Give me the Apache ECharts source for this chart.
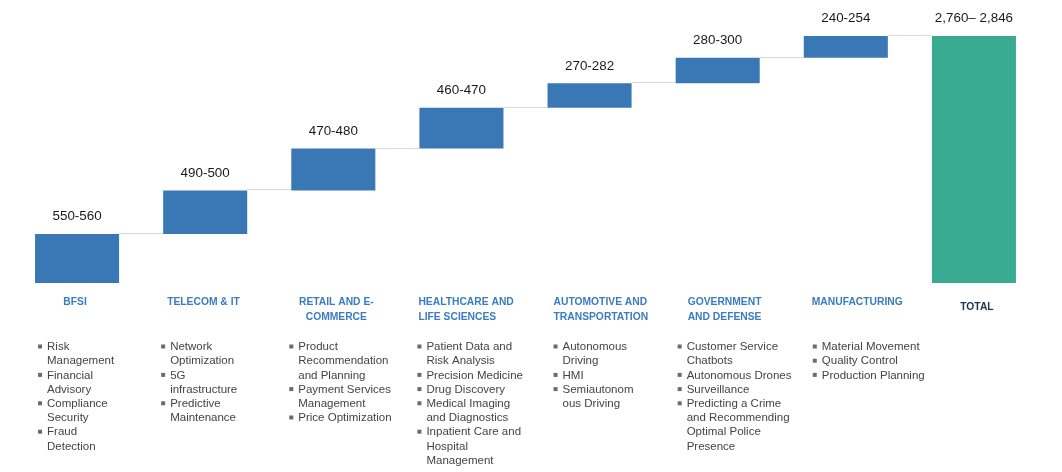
<!DOCTYPE html>
<html>
<head>
<meta charset="utf-8">
<script src="https://cdn.jsdelivr.net/npm/echarts@6/dist/echarts.min.js"></script>
<style>
html,body{margin:0;padding:0;background:#fff;}
#chart{width:1062px;height:472px;}
</style>
</head>
<body>
<div id="chart"></div>
<script>
// ---- data ----
const categories = ['BFSI', 'TELECOM & IT', 'RETAIL AND E-\nCOMMERCE', 'HEALTHCARE AND\nLIFE SCIENCES',
  'AUTOMOTIVE AND\nTRANSPORTATION', 'GOVERNMENT\nAND DEFENSE', 'MANUFACTURING', 'TOTAL'];
const rangeLabels = ['550-560', '490-500', '470-480', '460-470', '270-282', '280-300', '240-254', '2,760\u2013 2,846'];
const midValues = [555, 495, 475, 465, 276, 290, 247];
const bullets = [
  ['Risk\nManagement', 'Financial\nAdvisory', 'Compliance\nSecurity', 'Fraud\nDetection'],
  ['Network\nOptimization', '5G\ninfrastructure', 'Predictive\nMaintenance'],
  ['Product\nRecommendation\nand Planning', 'Payment Services\nManagement', 'Price Optimization'],
  ['Patient Data and\nRisk Analysis', 'Precision Medicine', 'Drug Discovery', 'Medical Imaging\nand Diagnostics', 'Inpatient Care and\nHospital\nManagement'],
  ['Autonomous\nDriving', 'HMI', 'Semiautonom\nous Driving'],
  ['Customer Service\nChatbots', 'Autonomous Drones', 'Surveillance', 'Predicting a Crime\nand Recommending\nOptimal Police\nPresence'],
  ['Material Movement', 'Quality Control', 'Production Planning'],
  []
];

// ---- derived (waterfall) ----
const total = midValues.reduce((a, b) => a + b, 0);
const baseVals = [];
let acc = 0;
midValues.forEach(v => { baseVals.push(acc); acc += v; });
baseVals.push(0);
const shownVals = midValues.concat([total]);
const cumulative = midValues.map((v, i) => baseVals[i] + v);

// ---- layout / style (not data) ----
const BAR_RATIO = 0.656;
const titleLayout = [['center', -2], ['left', 4], ['center', 3], ['left', -1], ['left', 6], ['left', 12], ['left', 8], ['center', 3]];
const bulletIndent = [3, -2, -2, -2, 6, 2, 9];
const LH = 14.2;
const BLUE = '#3a78b5';
const GREEN = '#3aab93';

const chart = echarts.init(document.getElementById('chart'));
chart.setOption({
  animation: false,
  grid: { left: 13, right: 24, top: 36, bottom: 189 },
  xAxis: {
    type: 'category',
    data: categories,
    axisLine: { show: false },
    axisTick: { show: false },
    axisLabel: { show: false },
    splitLine: { show: false }
  },
  yAxis: { type: 'value', min: 0, max: 'dataMax', show: false, splitLine: { show: false } },
  series: [
    {
      type: 'bar', stack: 'w', barWidth: (BAR_RATIO * 100) + '%',
      itemStyle: { color: 'transparent' }, data: baseVals, silent: true
    },
    {
      type: 'bar', stack: 'w', barWidth: (BAR_RATIO * 100) + '%',
      data: shownVals.map((v, i) => ({ value: v, itemStyle: { color: i === shownVals.length - 1 ? GREEN : BLUE } })),
      label: {
        show: true, position: 'top', distance: 11,
        formatter: p => rangeLabels[p.dataIndex],
        fontFamily: '"Liberation Sans", Arial, sans-serif', fontSize: 13.4, color: '#1a1a1a'
      }
    },
    {
      // connectors
      type: 'custom',
      data: cumulative.map((c, i) => [i, c]),
      encode: { x: 0, y: 1 },
      z: 1,
      renderItem: (params, api) => {
        const i = api.value(0);
        const c = api.value(1);
        const p1 = api.coord([i, c]);
        const p2 = api.coord([i + 1, c]);
        const bw = api.size([1, 0])[0] * BAR_RATIO;
        return {
          type: 'line',
          shape: { x1: p1[0] + bw / 2, y1: Math.round(p1[1]) - 0.5, x2: p2[0] - bw / 2, y2: Math.round(p1[1]) - 0.5 },
          style: { stroke: '#d9d9d9', lineWidth: 1 }
        };
      }
    },
    {
      // titles and bullet lists
      type: 'custom',
      data: categories.map((c, i) => [i, 0]),
      encode: { x: 0, y: 1 },
      renderItem: (params, api) => {
        const i = api.value(0);
        const p = api.coord([i, 0]);
        const bw = api.size([1, 0])[0] * BAR_RATIO;
        const left = p[0] - bw / 2;
        const children = [];
        const isTotal = i === categories.length - 1;
        const tl = titleLayout[i];
        const tx = tl[0] === 'center' ? p[0] + tl[1] : left + tl[1];
        children.push({
          type: 'text',
          style: {
            x: tx, y: p[1] + (isTotal ? 17 : 12),
            text: categories[i],
            align: tl[0], verticalAlign: 'top',
            font: 'bold 10.3px "Liberation Sans", Arial, sans-serif',
            lineHeight: 14.5,
            fill: isTotal ? '#1e3550' : '#3a7cc0'
          }
        });
        let line = 0;
        const y0 = p[1] + 64;
        bullets[i].forEach(item => {
          const bx = left + bulletIndent[i];
          children.push({
            type: 'rect',
            shape: { x: bx, y: y0 + line * LH - 2.5, width: 4, height: 4 },
            style: { fill: '#6b6b6b' }
          });
          item.split('\n').forEach(s => {
            children.push({
              type: 'text',
              style: {
                x: bx + 9, y: y0 + line * LH,
                text: s, align: 'left', verticalAlign: 'middle',
                font: '11.5px "Liberation Sans", Arial, sans-serif',
                fill: '#444'
              }
            });
            line++;
          });
        });
        return { type: 'group', children };
      }
    }
  ]
});
</script>
</body>
</html>
